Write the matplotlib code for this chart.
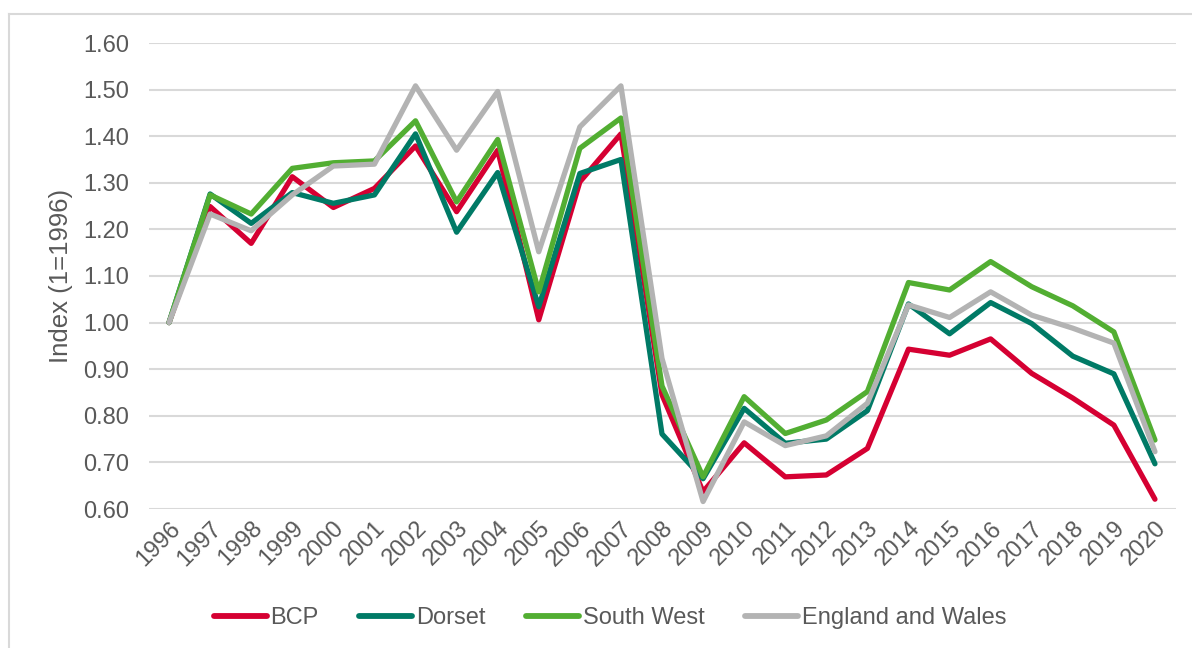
import matplotlib
matplotlib.use("Agg")
import matplotlib.pyplot as plt
from matplotlib.lines import Line2D

years = [str(y) for y in range(1996, 2021)]
bcp = [1.000, 1.249, 1.170, 1.313, 1.247, 1.288, 1.379, 1.238, 1.370, 1.006,
       1.302, 1.405, 0.845, 0.637, 0.742, 0.669, 0.673, 0.730, 0.943, 0.930,
       0.965, 0.891, 0.838, 0.780, 0.621]
dorset = [1.000, 1.276, 1.213, 1.279, 1.256, 1.274, 1.405, 1.194, 1.322, 1.034,
          1.320, 1.350, 0.761, 0.665, 0.816, 0.741, 0.750, 0.811, 1.040, 0.976,
          1.043, 0.998, 0.928, 0.890, 0.697]
south_west = [1.000, 1.274, 1.233, 1.331, 1.343, 1.347, 1.433, 1.259, 1.393, 1.066,
              1.374, 1.439, 0.864, 0.669, 0.841, 0.762, 0.791, 0.852, 1.086, 1.070,
              1.131, 1.077, 1.036, 0.980, 0.748]
eng_wales = [1.000, 1.233, 1.197, 1.274, 1.336, 1.340, 1.508, 1.370, 1.496, 1.152,
             1.420, 1.508, 0.923, 0.616, 0.787, 0.736, 0.757, 0.827, 1.038, 1.011,
             1.066, 1.016, 0.988, 0.956, 0.723]
series_names = ["BCP", "Dorset", "South West", "England and Wales"]
yticks = [0.6, 0.7, 0.8, 0.9, 1.0, 1.1, 1.2, 1.3, 1.4, 1.5, 1.6]

colors = ["#D50032", "#007A66", "#52AE32", "#B3B3B3"]
text_color = "#595959"

plt.rcParams['font.family'] = ['Liberation Sans', 'DejaVu Sans']

fig = plt.figure(figsize=(11.92, 6.48), dpi=100)
ax = fig.add_axes([148.5 / 1192, 1 - 509 / 648, (1175.5 - 148.5) / 1192, (509 - 43) / 648])

x = list(range(len(years)))
for vals, name, c in zip([bcp, dorset, south_west, eng_wales], series_names, colors):
    ax.plot(x, vals, color=c, lw=3.8, label=name, solid_joinstyle='round',
            solid_capstyle='round', zorder=3)

ax.set_xlim(-0.5, len(years) - 0.5)
ax.set_ylim(0.6, 1.6)
ax.set_yticks(yticks)
ax.set_yticklabels([f"{v:.2f}" for v in yticks], fontsize=17, color=text_color)
ax.set_xticks(x)
ax.set_xticklabels(years, rotation=45, ha='right', rotation_mode='anchor',
                   fontsize=17, color=text_color)
ax.tick_params(axis='both', length=0)
ax.tick_params(axis='y', pad=14)
ax.tick_params(axis='x', pad=6)
ax.grid(axis='y', color='#D9D9D9', lw=1.5, zorder=0)
for s in ax.spines.values():
    s.set_visible(False)
ax.set_ylabel("Index (1=1996)", fontsize=18.5, color=text_color, labelpad=7)

handles = [Line2D([0], [0], color=c, lw=4.2, solid_capstyle='round') for c in colors]
fig.legend(handles, series_names, loc='center', bbox_to_anchor=(0.5117, 1 - 618 / 648),
           ncol=4, frameon=False, fontsize=17, handlelength=2.25, handletextpad=0.15,
           columnspacing=1.72, labelcolor=text_color)

# chart border (top and left visible)
fig.add_artist(Line2D([8.5 / 1192, 8.5 / 1192], [0, 1 - 14 / 648], color='#D9D9D9', lw=1.5,
                      transform=fig.transFigure))
fig.add_artist(Line2D([8.5 / 1192, 1], [1 - 14 / 648, 1 - 14 / 648], color='#D9D9D9', lw=1.5,
                      transform=fig.transFigure))

fig.savefig("out.png", dpi=100)
